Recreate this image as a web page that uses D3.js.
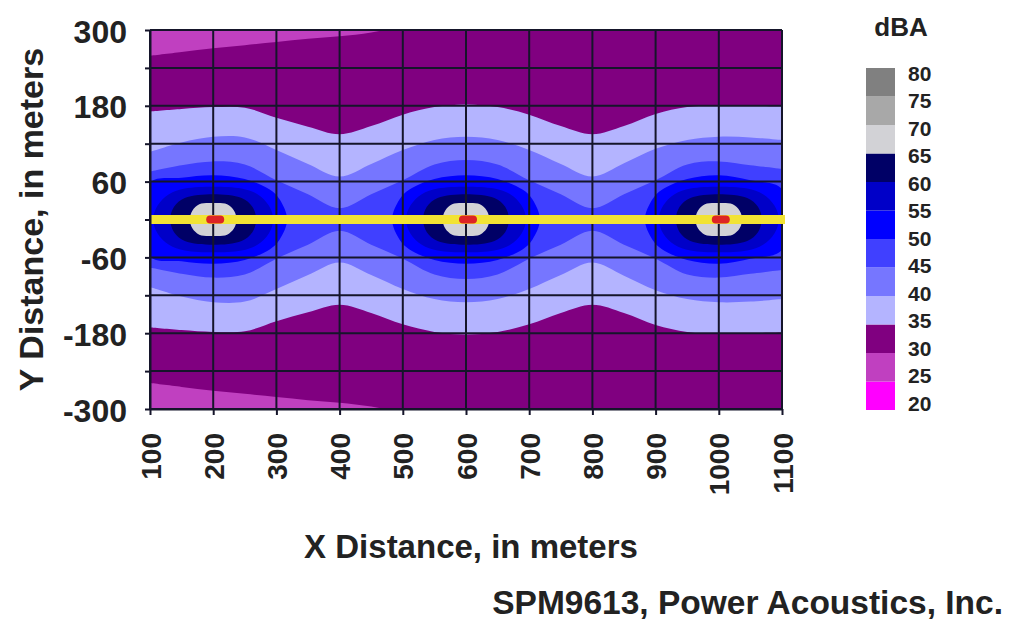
<!DOCTYPE html>
<html>
<head>
<meta charset="utf-8">
<script src="https://d3js.org/d3.v7.min.js"></script>
<style>
    body { margin: 0; background: #ffffff; }
    text { font-family: "Liberation Sans", Arial, sans-serif; font-weight: bold; fill: #222; }
</style>
</head>
<body>
<div id="chart"></div>
<script>
let svgWidth = 1018;
let svgHeight = 620;

let mar = {
    top: 30,
    bottom: 211,
    right: 236,
    left: 150
};

let wdt = svgWidth - mar.left - mar.right;
let hgt = svgHeight - mar.top - mar.bottom;

// contour edges, half height in meters (field is mirrored about y = 0)
let xKnots = [100, 150, 200, 250, 300, 350, 400, 450, 500, 550, 600, 650, 700, 750, 800, 850, 900, 950, 1000, 1050, 1100];
let edge30 = [259, 265, 271, 276, 281, 286, 290, 296, 306, 315, 320, 320, 320, 320, 320, 320, 320, 320, 320, 320, 320];
let edge35 = [171, 175, 178, 177, 161, 147, 135, 148, 166, 178, 182, 178, 166, 148, 135, 148, 167, 178, 181, 180, 179];
let edge40 = [107, 122, 131, 130, 110, 88, 68, 88, 110, 126, 131, 126, 110, 88, 68, 89, 112, 126, 131, 130, 126];
let edge45 = [76, 86, 92, 87, 62, 40, 18, 40, 62, 87, 94, 87, 62, 40, 18, 40, 62, 87, 92, 86, 80];
let edge50X = [100, 150, 200, 250, 290, 305, 317, 483, 495, 510, 550, 600, 650, 690, 705, 717, 883, 895, 910, 950, 1000, 1050, 1100];
let edge50 = [58, 66, 70, 64, 47, 32, 0, 0, 32, 47, 64, 70, 64, 47, 32, 0, 0, 32, 47, 64, 70, 62, 48];

// rings around each source, offsets in meters
let sourceX = [200, 600, 1000];
let ringDX55 = [-95, -88, -70, -45, 0, 45, 70, 88, 95];
let ring55 = [0, 22, 40, 49, 52, 49, 40, 22, 0];
let ringDX60 = [-68, -62, -45, 0, 45, 62, 68];
let ring60 = [0, 20, 34, 40, 34, 20, 0];
let ringDX65 = [-37, -33, -22, 0, 22, 33, 37];
let ring65 = [0, 14, 24, 26, 24, 14, 0];

let legendLevels = [20, 25, 30, 35, 40, 45, 50, 55, 60, 65, 70, 75];
let legendColors = ["#ff00ff", "#c040c0", "#800080", "#b4b4ff", "#7676ff", "#4040ff", "#0000ff", "#0000c8", "#000066", "#d2d2d6", "#a8a8a8", "#808080"];
let legendTicks = [80, 75, 70, 65, 60, 55, 50, 45, 40, 35, 30, 25, 20];

let xTicks = [100, 200, 300, 400, 500, 600, 700, 800, 900, 1000, 1100];
let yGrid = [-300, -240, -180, -120, -60, 0, 60, 120, 180, 240, 300];
let yLabels = [300, 180, 60, -60, -180, -300];

function bandColor(level) {
    return legendColors[legendLevels.indexOf(level)];
}

let svg = d3
    .select("#chart")
    .append("svg")
    .attr("width", svgWidth)
    .attr("height", svgHeight);
let chart = svg.append("g")
    .attr("transform", `translate(${mar.left}, ${mar.top})`);

let x = d3.scaleLinear().domain([100, 1100]).range([0, wdt]);
let y = d3.scaleLinear().domain([-300, 300]).range([hgt, 0]);

svg.append("defs").append("clipPath")
    .attr("id", "plotClip")
    .append("rect")
    .attr("width", wdt)
    .attr("height", hgt);

//---------------------------------------------------------------------------------------------

let field = chart.append("g").attr("clip-path", "url(#plotClip)");

field.append("rect")
    .attr("width", wdt)
    .attr("height", hgt)
    .attr("fill", bandColor(25));

let area = d3.area()
    .x(d => x(d.x))
    .y0(d => y(-d.h))
    .y1(d => y(d.h))
    .curve(d3.curveCatmullRom.alpha(0.5));

let blob = d3.line()
    .x(d => x(d[0]))
    .y(d => y(d[1]))
    .curve(d3.curveCatmullRomClosed.alpha(0.5));

function pairs(xs, hs, offset) {
    return xs.map((d, i) => ({ x: d + offset, h: hs[i] }));
}

// split an edge into islands separated by zero height, each island as a closed outline
function islands(xs, hs, offset) {
    let groups = [];
    let cur = [];
    xs.forEach(function (d, i) {
        if (hs[i] > 0) {
            cur.push([d + offset, hs[i]]);
        } else {
            if (cur.length) {
                cur.push([d + offset, 0]);
                groups.push(cur);
                cur = [];
            } else {
                cur = [[d + offset, 0]];
            }
        }
    });
    if (cur.length > 1) groups.push(cur);
    return groups.map(function (g) {
        let top = g;
        let bottom = g.filter(p => p[1] > 0).map(p => [p[0], -p[1]]).reverse();
        return top.concat(bottom);
    });
}

let bands = [
    { level: 30, hs: edge30 },
    { level: 35, hs: edge35 },
    { level: 40, hs: edge40 },
    { level: 45, hs: edge45 }
];

bands.forEach(function (b) {
    field.append("path")
        .datum(pairs(xKnots, b.hs, 0))
        .attr("d", area)
        .attr("fill", bandColor(b.level));
});

islands(edge50X, edge50, 0).forEach(function (g) {
    field.append("path")
        .datum(g)
        .attr("d", blob)
        .attr("fill", bandColor(50));
});

let rings = [
    { level: 55, xs: ringDX55, hs: ring55 },
    { level: 60, xs: ringDX60, hs: ring60 },
    { level: 65, xs: ringDX65, hs: ring65 }
];

rings.forEach(function (r) {
    sourceX.forEach(function (s) {
        islands(r.xs, r.hs, s).forEach(function (g) {
            field.append("path")
                .datum(g)
                .attr("d", blob)
                .attr("fill", bandColor(r.level));
        });
    });
});

//---------------------------------------------------------------------------------------------

let grid = chart.append("g");
grid.selectAll(".vgrid")
    .data(xTicks)
    .enter()
    .append("line")
    .attr("x1", d => x(d))
    .attr("x2", d => x(d))
    .attr("y1", 0)
    .attr("y2", hgt)
    .attr("stroke", "#15152a")
    .attr("stroke-width", 2);
grid.selectAll(".hgrid")
    .data(yGrid)
    .enter()
    .append("line")
    .attr("x1", 0)
    .attr("x2", wdt)
    .attr("y1", d => y(d))
    .attr("y2", d => y(d))
    .attr("stroke", "#15152a")
    .attr("stroke-width", 2);

// road line and the three sources
chart.append("line")
    .attr("x1", x(100))
    .attr("x2", x(1100) + 3)
    .attr("y1", y(0))
    .attr("y2", y(0))
    .attr("stroke", "#f2e334")
    .attr("stroke-width", 9);

chart.selectAll(".source")
    .data(sourceX)
    .enter()
    .append("rect")
    .attr("x", d => x(d) - 7)
    .attr("y", y(0) - 4)
    .attr("width", 18)
    .attr("height", 8)
    .attr("rx", 4)
    .attr("fill", "#dd2424");

//---------------------------------------------------------------------------------------------

let xAxis = chart.append("g")
    .attr("transform", `translate(0, ${hgt})`)
    .call(d3.axisBottom(x).tickValues(xTicks).tickSize(6).tickSizeOuter(0).tickFormat(d3.format("d")));
xAxis.select(".domain").attr("stroke", "#15152a").attr("stroke-width", 2);
xAxis.selectAll(".tick line").attr("stroke", "#15152a").attr("stroke-width", 2);
xAxis.selectAll("text")
    .attr("transform", "rotate(-90)")
    .attr("x", -24)
    .attr("y", 0)
    .attr("dy", "0.36em")
    .style("text-anchor", "end")
    .style("font-size", "28px");

let yAxis = chart.append("g")
    .call(d3.axisLeft(y).tickValues(yGrid).tickSize(5).tickSizeOuter(0)
        .tickFormat(d => yLabels.includes(d) ? d : ""));
yAxis.select(".domain").attr("stroke", "#15152a").attr("stroke-width", 2);
yAxis.selectAll(".tick line").attr("stroke", "#15152a").attr("stroke-width", 2);
yAxis.selectAll("text")
    .attr("x", -23)
    .attr("dy", "0.38em")
    .style("font-size", "32px");

chart.append("text")
    .attr("x", wdt / 2 + 5)
    .attr("y", hgt + 149)
    .attr("text-anchor", "middle")
    .style("font-size", "33px")
    .text("X Distance, in meters");

chart.append("text")
    .attr("transform", `translate(${-107}, ${hgt / 2}) rotate(-90)`)
    .attr("text-anchor", "middle")
    .style("font-size", "34px")
    .text("Y Distance, in meters");

svg.append("text")
    .attr("x", 1003)
    .attr("y", 614)
    .attr("text-anchor", "end")
    .style("font-size", "33.5px")
    .text("SPM9613, Power Acoustics, Inc.");

//---------------------------------------------------------------------------------------------

let legend = svg.append("g").attr("transform", "translate(866, 68)");
let legendY = d3.scaleLinear().domain([80, 20]).range([0, 342]);
let labelY = d3.scaleLinear().domain([80, 20]).range([5, 335]);

legend.selectAll("rect")
    .data(legendLevels)
    .enter()
    .append("rect")
    .attr("x", 0)
    .attr("y", d => legendY(d + 5))
    .attr("width", 29)
    .attr("height", d => legendY(d) - legendY(d + 5))
    .attr("fill", (d, i) => legendColors[i]);

legend.selectAll(".lab")
    .data(legendTicks)
    .enter()
    .append("text")
    .attr("x", 42)
    .attr("y", d => labelY(d))
    .attr("dy", "0.36em")
    .style("font-size", "21px")
    .text(d => d);

svg.append("text")
    .attr("x", 901)
    .attr("y", 36)
    .attr("text-anchor", "middle")
    .style("font-size", "26px")
    .text("dBA");
</script>
</body>
</html>
